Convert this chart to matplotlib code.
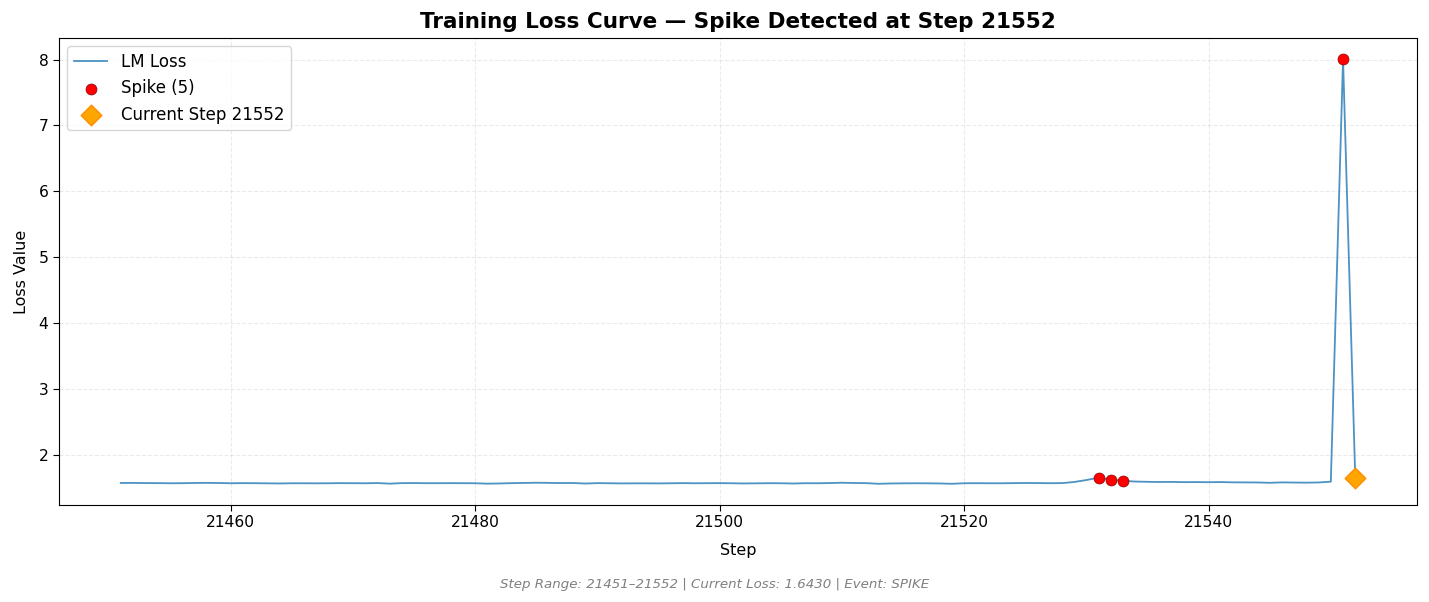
import matplotlib
matplotlib.use('Agg')
import matplotlib.pyplot as plt
import numpy as np

# data
steps = np.arange(21451, 21553)
loss = [
    1.570, 1.571, 1.569, 1.568, 1.566, 1.567, 1.570, 1.572, 1.570, 1.566,
    1.568, 1.567, 1.565, 1.563, 1.566, 1.566, 1.565, 1.566, 1.568, 1.567,
    1.566, 1.569, 1.560, 1.568, 1.569, 1.567, 1.567, 1.568, 1.567, 1.566,
    1.560, 1.563, 1.568, 1.571, 1.574, 1.572, 1.569, 1.570, 1.562, 1.568,
    1.566, 1.564, 1.565, 1.565, 1.564, 1.566, 1.568, 1.566, 1.567, 1.568,
    1.566, 1.563, 1.565, 1.567, 1.566, 1.562, 1.567, 1.566, 1.569, 1.574,
    1.570, 1.568, 1.558, 1.563, 1.565, 1.566, 1.565, 1.563, 1.558, 1.566,
    1.567, 1.566, 1.566, 1.568, 1.570, 1.569, 1.567, 1.568, 1.585, 1.615,
    1.652, 1.622, 1.603, 1.592, 1.588, 1.585, 1.587, 1.583, 1.584, 1.582,
    1.584, 1.580, 1.579, 1.578, 1.573, 1.579, 1.577, 1.575, 1.578, 1.590,
    8.005, 1.643,
]
spike_steps = [21531, 21532, 21533, 21551, 21552]
current_step = 21552
current_loss = 1.6430

loss = np.array(loss)
spike_loss = [loss[s - steps[0]] for s in spike_steps]

fig, ax = plt.subplots(figsize=(14.29, 6.02), dpi=100)
fig.subplots_adjust(left=0.0413, right=0.9916, top=0.9369, bottom=0.1611)

ax.plot(steps, loss, color='#1f77b4', alpha=0.8, linewidth=1.3, label='LM Loss')
ax.scatter(spike_steps, spike_loss, color='red', edgecolors='darkred', linewidths=0.5,
           s=62, zorder=5, label='Spike (%d)' % len(spike_steps))
ax.scatter([current_step], [current_loss], color='orange', edgecolors='darkorange',
           marker='D', s=110, zorder=6, label='Current Step %d' % current_step)

ax.set_title('Training Loss Curve — Spike Detected at Step %d' % current_step,
             fontsize=15.5, fontweight='bold', pad=7)
ax.set_xlabel('Step', fontsize=11.5, labelpad=9)
ax.set_ylabel('Loss Value', fontsize=11.5, labelpad=7)
ax.tick_params(labelsize=11.2, length=4)
ax.grid(True, linestyle='--', alpha=0.25)
ax.legend(loc='upper left', fontsize=12)

fig.text(0.5, 0.024, 'Step Range: %d–%d | Current Loss: %.4f | Event: SPIKE'
         % (steps[0], steps[-1], current_loss),
         ha='center', fontsize=9.6, style='italic', color='gray')

fig.savefig('out.png', dpi=100)
